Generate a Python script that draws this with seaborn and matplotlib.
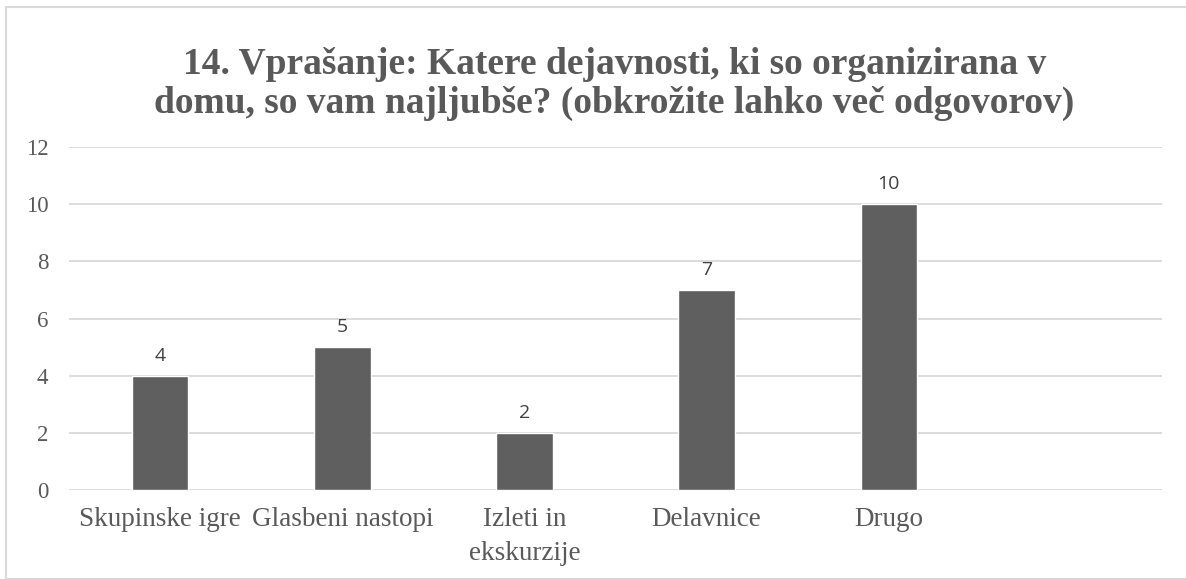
import pandas as pd
import seaborn as sns
import matplotlib.pyplot as plt
from matplotlib.patches import Rectangle

# Chart data
categories = ["Skupinske igre", "Glasbeni nastopi", "Izleti in\nekskurzije", "Delavnice", "Drugo"]
counts = [4, 5, 2, 7, 10]
y_ticks = [0, 2, 4, 6, 8, 10, 12]
title = "14. Vprašanje: Katere dejavnosti, ki so organizirana v\ndomu, so vam najljubše? (obkrožite lahko več odgovorov)"

df = pd.DataFrame({"Dejavnost": categories, "Število": counts})

sns.set_style("white")
plt.rcParams['font.family'] = ['Liberation Serif', 'DejaVu Serif']

text_col = "#595959"
bar_col = "#5f5f5f"
grid_col = "#d9d9d9"

fig = plt.figure(figsize=(11.86, 5.79), dpi=100)
ax = fig.add_axes([0.0582, 0.1537, 0.9216, 0.5924])

# extra empty slot at the end, like the original chart
order = categories + [" "]
sns.barplot(data=df, x="Dejavnost", y="Število", order=order, color=bar_col,
            width=0.31, saturation=1, ax=ax, zorder=3)

ax.set_ylim(0, 12)
ax.set_yticks(y_ticks)
ax.yaxis.grid(True, color=grid_col, linewidth=1.3, zorder=0)
ax.set_axisbelow(True)
for s in ax.spines.values():
    s.set_visible(False)
ax.tick_params(axis='both', length=0, labelcolor=text_col)
ax.tick_params(axis='y', pad=15, labelsize=16.5)
ax.tick_params(axis='x', pad=12, labelsize=19.5)
for lbl in ax.get_xticklabels():
    lbl.set_linespacing(1.5)
ax.set_xlabel("")
ax.set_ylabel("")

for c in ax.containers:
    ax.bar_label(c, labels=[str(v) for v in counts], padding=8, fontsize=14,
                 color="#404040", family=['Open Sans', 'DejaVu Sans'])

fig.text(0.518, 0.919, title, ha='center', va='top', fontsize=27, fontweight='bold',
         color=text_col, linespacing=1.14)

fig.patches.append(Rectangle((6 / 1186, 0), 1.2, 1 - 7 / 579, transform=fig.transFigure,
                             fill=False, edgecolor=grid_col, linewidth=1.5))

fig.savefig("out.png", dpi=100)
